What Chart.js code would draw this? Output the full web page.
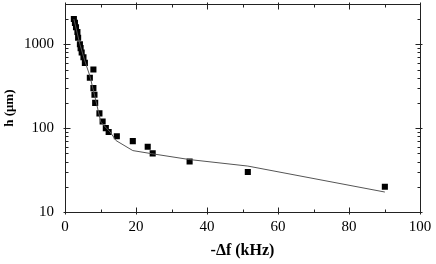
<!DOCTYPE html>
<html><head><meta charset="utf-8">
<script src="https://cdn.jsdelivr.net/npm/chart.js@4/dist/chart.umd.min.js"></script>
<style>html,body{margin:0;padding:0;background:#fff}#wrap{width:436px;height:264px}</style>
</head><body><div id="wrap"><canvas id="c" width="436" height="264"></canvas></div>
<script>
// measured data (square markers)
const freqShift = [2.5,2.8,3.1,3.5,3.7,4.2,4.4,4.7,5.2,5.6,8.0,7.0,8.0,8.3,8.5,9.7,10.6,11.5,12.3,14.6,19.1,23.3,24.7,35.1,51.5,90.1];
const heightUm  = [2000,1800,1600,1400,1200,1000,900,800,700,600,500,400,300,250,200,150,120,100,90,80,70,60,50,40,30,20];
// model curve
const fitShift  = [2.5,4.2,5.5,7.0,8.5,10.1,12.7,14.4,19.1,24.4,35.1,51.5,90.1];
const fitHeight = [2000,1000,650,420,230,118,90,71,54,49.6,42.2,35.3,17.3];
// axis ticks
const xTicks = [0,20,40,60,80,100];
const xMinorTicks = [10,30,50,70,90];
const yTicks = [10,100,1000];
const yMinorTicks = [20,30,40,50,60,70,80,90,200,300,400,500,600,700,800,900,2000];

const FONT = "'Liberation Serif', 'Times New Roman', serif";

const tickPlugin = {
  id: 'inTicks',
  afterDraw(chart) {
    const {ctx, chartArea: a, scales} = chart;
    const xs = scales.x, ys = scales.y;
    ctx.save();
    ctx.strokeStyle = '#222';
    ctx.lineWidth = 1;
    ctx.beginPath();
    const L = Math.round(a.left)+0.5, R = Math.round(a.right)+0.5, T = Math.round(a.top)+0.5, B = Math.round(a.bottom)+0.5;
    ctx.rect(L, T, R-L, B-T);
    const vt = (v, maj) => {
      const p = Math.round(xs.getPixelForValue(v))+0.5;
      const inn = maj ? 5 : 3, out = maj ? 2 : 0;
      ctx.moveTo(p, B+out); ctx.lineTo(p, B-inn);
      ctx.moveTo(p, T-out); ctx.lineTo(p, T+inn);
    };
    const ht = (v, maj) => {
      const p = Math.round(ys.getPixelForValue(v))+0.5;
      const inn = maj ? 5 : 3, out = maj ? 2 : 0;
      ctx.moveTo(L-out, p); ctx.lineTo(L+inn, p);
      ctx.moveTo(R+out, p); ctx.lineTo(R-inn, p);
    };
    xTicks.forEach(v => vt(v, true));
    xMinorTicks.forEach(v => vt(v, false));
    yTicks.forEach(v => ht(v, true));
    yMinorTicks.forEach(v => ht(v, false));
    ctx.stroke();
    ctx.restore();
  }
};

new Chart(document.getElementById('c'), {
  type: 'scatter',
  data: {
    datasets: [
      {
        label: 'fit',
        data: fitShift.map((x,i)=>({x, y: fitHeight[i]})),
        showLine: true,
        borderColor: '#555',
        borderWidth: 1,
        pointRadius: 0,
        fill: false,
        tension: 0
      },
      {
        label: 'data',
        data: freqShift.map((x,i)=>({x, y: heightUm[i]})),
        showLine: false,
        pointStyle: 'rect',
        pointRadius: 4.3,
        backgroundColor: '#000',
        borderColor: '#000',
        borderWidth: 0
      }
    ]
  },
  options: {
    responsive: false,
    animation: false,
    devicePixelRatio: 1,
    layout: { padding: { top: 4, right: 16, left: 0, bottom: 0 } },
    plugins: { legend: { display: false }, tooltip: { enabled: false } },
    scales: {
      x: {
        type: 'linear', min: 0, max: 100,
        afterBuildTicks: s => { s.ticks = xTicks.map(v => ({value: v})); },
        afterFit: s => { s.height = 52; s.paddingLeft = 0; s.paddingRight = 0; },
        grid: { display: false, drawTicks: false },
        border: { display: false },
        ticks: { color: '#000', font: { family: FONT, size: 15 }, padding: 6, maxRotation: 0 },
        title: { display: true, text: '-Δf (kHz)', color: '#000', font: { family: FONT, size: 16, weight: 'bold' }, padding: { top: 4, bottom: 4 } }
      },
      y: {
        type: 'logarithmic', min: 10, max: 3000,
        afterBuildTicks: s => { s.ticks = yTicks.map(v => ({value: v})); },
        afterFit: s => { s.width = 65; s.paddingTop = 0; s.paddingBottom = 0; },
        grid: { display: false, drawTicks: false },
        border: { display: false },
        ticks: { color: '#000', font: { family: FONT, size: 15 }, padding: 11, callback: v => String(v) },
        title: { display: true, text: 'h (μm)', color: '#000', font: { family: FONT, size: 13, weight: 'bold' }, padding: { top: 2, bottom: 4 } }
      }
    }
  },
  plugins: [tickPlugin]
});
</script></body></html>
